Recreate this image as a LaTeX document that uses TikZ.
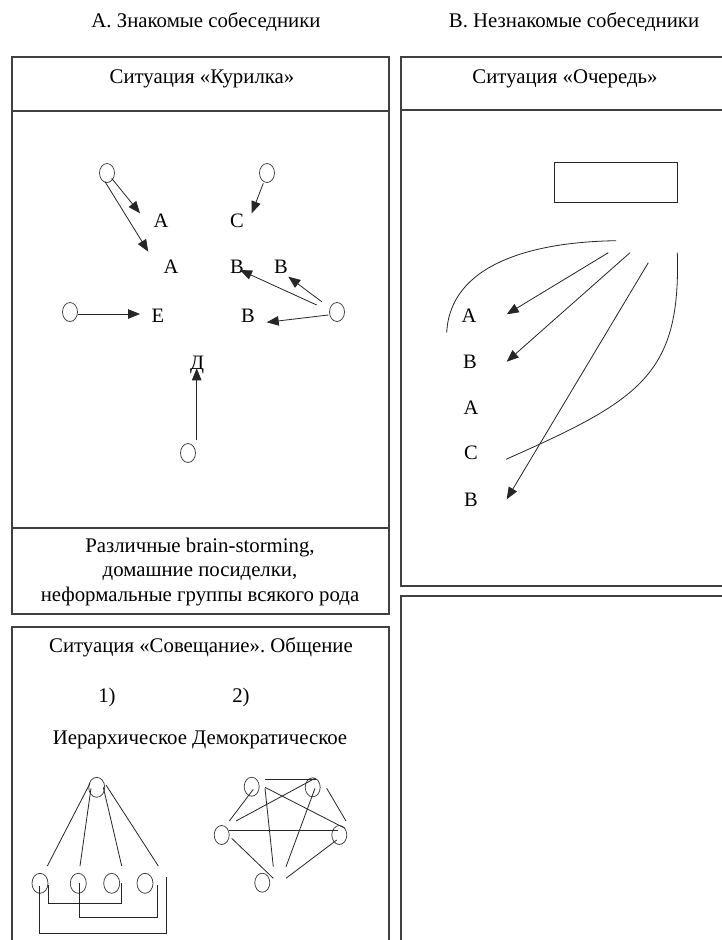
\documentclass[tikz,border=0pt]{standalone}
\usepackage{fontspec}
\setmainfont{Liberation Serif}
\usetikzlibrary{arrows.meta,shapes.geometric,calc}
\begin{document}
\frenchspacing
\begin{tikzpicture}[x=1pt,y=-1pt,
  frame/.style={draw=black!75, line width=1.1pt},
  ln/.style={draw=black!85, line width=0.8pt},
  arr/.style={ln, -{Triangle[length=12pt,width=9.5pt]}},
  oval/.style={draw=black!75, line width=0.75pt, ellipse, minimum width=15pt, minimum height=19pt, inner sep=0pt},
  bigoval/.style={oval, minimum width=16pt, minimum height=20pt},
  txt/.style={font=\fontsize{20.8}{24.5}\selectfont, inner sep=0pt, align=center},
  lbl/.style={font=\fontsize{20.5}{24}\selectfont, inner sep=0pt},
]
\clip (0,0) rectangle (722,940);
\fill[white] (0,0) rectangle (722,940);

% frames
\draw[frame] (12,57) rectangle (389,614);
\draw[frame] (12,111) -- (389,111);
\draw[frame] (12,528) -- (389,528);
\draw[frame] (401,57) rectangle (730,586);
\draw[frame] (401,110) -- (730,110);
\draw[frame] (12,627) rectangle (389,960);
\draw[frame] (401,596) rectangle (730,960);

% titles
\node[txt] (tA) at (206,22) {А. Знакомые собеседники};
\node[txt] (tB) at (574,22) {В. Незнакомые собеседники};
\node[txt] (hK) at (202,79) {Ситуация «Курилка»};
\node[txt] (hO) at (565,79) {Ситуация «Очередь»};
\node[txt] (fK) at (200,572) {Различные brain-storming,\\домашние посиделки,\\неформальные группы всякого рода};
\node[txt] (hS) at (201,647) {Ситуация «Совещание». Общение};
\node[txt] (n1) at (107,697) {1)};
\node[txt] (n2) at (241,697) {2)};
\node[txt] (hD) at (200,740) {Иерархическое Демократическое};

% Kurilka
\node[oval] (c1) at (107,173) {};
\node[oval] (c2) at (267,173) {};
\node[oval] (c3) at (70,312) {};
\node[oval] (c4) at (337,312) {};
\node[oval] (c5) at (188,453) {};
\node[lbl] (kA1) at (161,221) {А};
\node[lbl] (kC) at (237,221) {С};
\node[lbl] (kA2) at (171,267) {А};
\node[lbl] (kB1) at (237,267) {В};
\node[lbl] (kB2) at (281,267) {В};
\node[lbl] (kE) at (158,316) {Е};
\node[lbl] (kB3) at (248,316) {В};
\node[lbl] (kD) at (197,365) {Д};
\draw[arr] ($(c1)+(4.7,5.3)$) -- ($(kA1)+(-21,-7.7)$);
\draw[arr] ($(c1)+(-2,8.7)$) -- ($(kA2)+(-22.7,-15.3)$);
\draw[arr] ($(c2)+(-3.7,10.3)$) -- ($(kC)+(14.7,-7.7)$);
\draw[arr] ($(c4)+(-20.3,-7)$) -- ($(kB1)+(3,3)$);
\draw[arr] ($(c4)+(-15.3,-10.3)$) -- ($(kB2)+(7.3,9.7)$);
\draw[arr] ($(c4)+(-8.7,3)$) -- ($(kB3)+(18.7,6.3)$);
\draw[arr] ($(c3)+(8.3,2)$) -- ($(kE)+(-18,-2)$);
\draw[arr] ($(c5)+(8.7,-13)$) -- ($(kD)+(-0.3,3.3)$);

% Ochered
\node[draw=black!85, line width=0.8pt, minimum width=123pt, minimum height=40pt, inner sep=0pt] (qbox) at (616,182.3) {};
\node[lbl] (qA1) at (469,316) {А};
\node[lbl] (qB1) at (470,362) {В};
\node[lbl] (qA2) at (471,408) {А};
\node[lbl] (qC) at (471,453) {С};
\node[lbl] (qB2) at (471,500) {В};
\coordinate (s0) at (616,240.7);
\coordinate (e0) at (446.7,332.7);
\coordinate (s1) at (608.3,252.7);
\coordinate (s2) at (630,252.7);
\coordinate (s3) at (648.3,262.7);
\coordinate (s4) at (677.3,252.7);
\draw[ln] (e0) .. controls (450,265) and (530,242) .. (s0);
\draw[arr] (s1) -- ($(qA1)+(37.7,-1.7)$);
\draw[arr] (s2) -- ($(qB1)+(36.7,-0.3)$);
\draw[arr] (s3) -- ($(qB2)+(35.7,-0.7)$);
\draw[ln] (s4) .. controls (681,375) and (640,400) .. ($(qC)+(35,6.3)$);

% Hierarchical
\node[bigoval] (h0) at (96.7,787.3) {};
\node[bigoval] (h1) at (40,883.3) {};
\node[bigoval] (h2) at (78.3,883.3) {};
\node[bigoval] (h3) at (111.7,883.3) {};
\node[bigoval] (h4) at (145,883.3) {};
\draw[ln] ($(h0)+(-6.7,-4)$) -- ($(h1)+(7.3,-17.3)$);
\draw[ln] ($(h0)+(-5.7,1)$) -- ($(h2)+(1.7,-17.3)$);
\draw[ln] ($(h0)+(6.6,0)$) -- ($(h3)+(10,-17.3)$);
\draw[ln] ($(h0)+(9.3,-2.3)$) -- ($(h4)+(13.3,-17.3)$);
\draw[ln] ($(h1)+(8.3,1.7)$) -- ($(h1)+(8.3,20)$) -| ($(h3)+(10,0)$);
\draw[ln] ($(h2)+(1,0)$) -- ($(h2)+(1,34.4)$) -| ($(h4)+(12.3,1.7)$);
\draw[ln] ($(h1)+(-0.7,2.7)$) -- ($(h1)+(-0.7,50)$) -| ($(h4)+(21.3,-6.6)$);

% Democratic
\node[oval] (dTL) at (251.7,786.7) {};
\node[oval] (dTR) at (312.7,787.3) {};
\node[oval] (dL) at (221.7,835) {};
\node[oval] (dR) at (339.3,835) {};
\node[oval] (dB) at (262.3,882.7) {};
\draw[ln] ($(dTL)+(13.3,-7.4)$) -- ($(dTR)+(3.3,-8)$);
\draw[ln] ($(dTL)+(1.6,2.6)$) -- ($(dL)+(7.6,-14)$);
\draw[ln] ($(dTR)+(2.3,-9)$) -- ($(dL)+(14.3,-14)$);
\draw[ln] ($(dTL)+(13.3,1.6)$) -- ($(dB)+(11,-16)$);
\draw[ln] ($(dTL)+(13.3,0.6)$) -- ($(dR)+(5.7,-6.7)$);
\draw[ln] ($(dTR)+(2.3,1)$) -- ($(dB)+(23.7,-16)$);
\draw[ln] ($(dTR)+(14,1)$) -- ($(dR)+(6.7,-14)$);
\draw[ln] ($(dL)+(7.6,-4.3)$) -- ($(dR)+(-1,-4.3)$);
\draw[ln] ($(dL)+(10,3.3)$) -- ($(dB)+(11,-4.4)$);
\draw[ln] ($(dR)+(-2.6,5)$) -- ($(dB)+(23.7,-4.4)$);
\end{tikzpicture}
\end{document}
